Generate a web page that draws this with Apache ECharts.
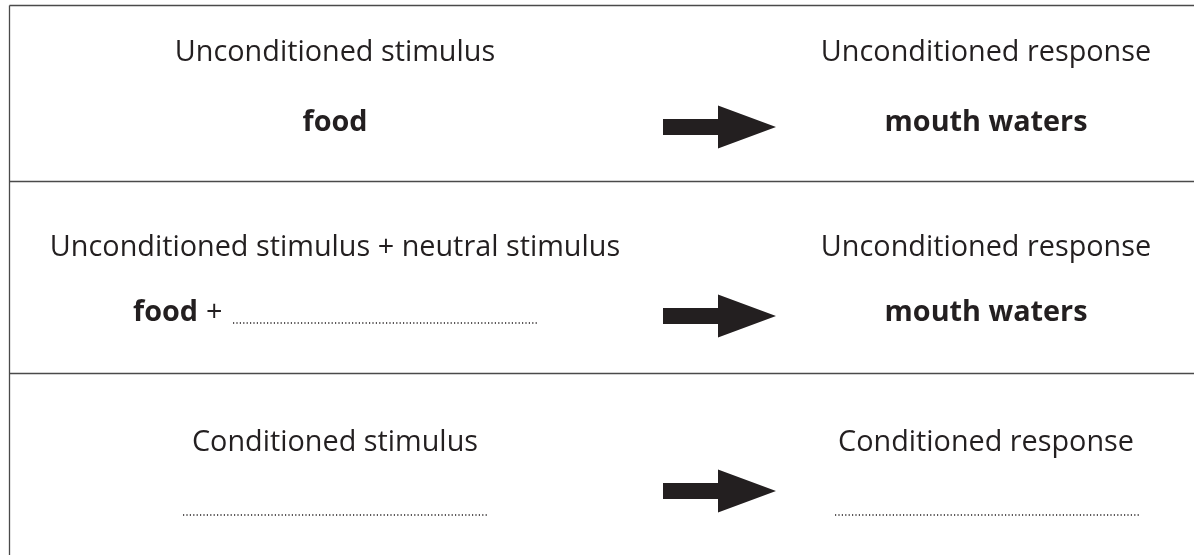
<!DOCTYPE html>
<html>
<head>
<meta charset="utf-8">
<script src="https://cdn.jsdelivr.net/npm/echarts@6/dist/echarts.min.js"></script>
<style>
html,body{margin:0;padding:0;background:#fff;}
#c{width:1194px;height:555px;}
</style>
</head>
<body>
<div id="c"></div>
<script>
// ---- content ----
const leftTitles = ['Unconditioned stimulus', 'Unconditioned stimulus + neutral stimulus', 'Conditioned stimulus'];
const rightTitles = ['Unconditioned response', 'Unconditioned response', 'Conditioned response'];
const leftAnswers = ['food', 'food', ''];      // bold text ('' = blank dotted line)
const leftSuffix = ['', '+', ''];              // regular text after the bold word
const leftBlank = [false, true, true];         // dotted answer line on the left
const rightAnswers = ['mouth waters', 'mouth waters', ''];
const rightBlank = [false, false, true];

// ---- layout ----
const W = 1194, H = 555;
const FONT = '"Open Sans", "Noto Sans", sans-serif';
const FS = 28.8;
const TXT = '#231f20';
const LINE = '#4a4a4a';
const borderX = 9.5;
const rowLines = [5.5, 181.5, 373.5];
const titleY = [53, 248, 443];
const answerY = [123, 313, 515];
const arrowY = [127, 316, 491];
const leftCx = 335, rightCx = 986;

const g = [];
// frame
g.push({type:'line', shape:{x1:borderX, y1:rowLines[0], x2:borderX, y2:H}, style:{stroke:LINE, lineWidth:1.3}});
rowLines.forEach(y => g.push({type:'line', shape:{x1:borderX, y1:y, x2:W, y2:y}, style:{stroke:LINE, lineWidth:1.3}}));

function txt(x, y, s, bold, align){
  return {type:'text', x:x, y:y, style:{text:s, fill:TXT,
    font:(bold?'bold ':'') + FS + 'px ' + FONT,
    textAlign:align||'center', textVerticalAlign:'middle', align:align||'center', verticalAlign:'middle'}};
}
function dots(x1, x2, y){
  return {type:'line', shape:{x1:x1, y1:y, x2:x2, y2:y}, style:{stroke:'#231f20', lineWidth:1.4, lineDash:[1.2,2.2]}};
}
function arrow(y){
  const x0 = 663, xs = 718, xt = 776, sh = 8, hh = 21.5;
  return {type:'polygon', shape:{points:[[x0,y-sh],[xs,y-sh],[xs,y-hh],[xt,y],[xs,y+hh],[xs,y+sh],[x0,y+sh]]},
    style:{fill:'#231f20'}};
}

for (let i = 0; i < 3; i++) {
  g.push(txt(leftCx, titleY[i], leftTitles[i], false));
  g.push(txt(rightCx, titleY[i], rightTitles[i], false));
  g.push(arrow(arrowY[i]));
  if (leftAnswers[i] && !leftBlank[i]) {
    g.push(txt(leftCx, answerY[i], leftAnswers[i], true));
  } else if (leftAnswers[i] && leftBlank[i]) {
    g.push(txt(133, answerY[i], leftAnswers[i], true, 'left'));
    g.push(txt(206, answerY[i], leftSuffix[i], false, 'left'));
    g.push(dots(233, 537, answerY[i] + 10));
  } else if (leftBlank[i]) {
    g.push(dots(183, 487, answerY[i]));
  }
  if (rightAnswers[i] && !rightBlank[i]) {
    g.push(txt(rightCx, answerY[i], rightAnswers[i], true));
  } else if (rightBlank[i]) {
    g.push(dots(835, 1140, answerY[i]));
  }
}

const chart = echarts.init(document.getElementById('c'), null, {renderer:'canvas'});
chart.setOption({backgroundColor:'#fff', animation:false, graphic:{elements:g}});
</script>
</body>
</html>
